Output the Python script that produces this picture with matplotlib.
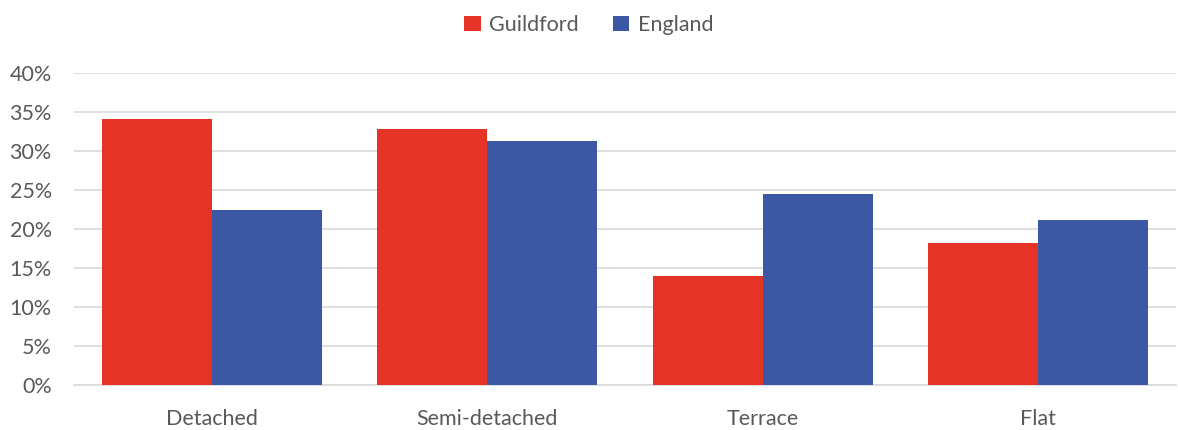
import matplotlib.pyplot as plt
import numpy as np
from matplotlib.ticker import PercentFormatter

# housing types share, Guildford vs England
categories = ["Detached", "Semi-detached", "Terrace", "Flat"]
guildford = [0.341, 0.328, 0.140, 0.182]
england = [0.224, 0.313, 0.245, 0.212]
yticks = [0, 0.05, 0.10, 0.15, 0.20, 0.25, 0.30, 0.35, 0.40]

plt.rcParams['font.family'] = ['Lato', 'DejaVu Sans']
txt = '#595959'

fig = plt.figure(figsize=(11.78, 4.30), dpi=100)
ax = fig.add_axes([74/1178, 45/430, 1102/1178, 312/430])

x = np.arange(len(categories))
w = 0.4
ax.bar(x - w/2, guildford, w, color='#E53425', label='Guildford', zorder=3)
ax.bar(x + w/2, england, w, color='#3C58A4', label='England', zorder=3)

ax.set_xlim(-0.5, len(categories) - 0.5)
ax.set_ylim(0, 0.4)
ax.set_yticks(yticks)
ax.yaxis.set_major_formatter(PercentFormatter(1.0, decimals=0))
ax.set_xticks(x)
ax.set_xticklabels(categories)
ax.grid(axis='y', color='#D9D9D9', linewidth=1.2, zorder=0)
for s in ['top', 'right', 'left']:
    ax.spines[s].set_visible(False)
ax.spines['bottom'].set_color('#D9D9D9')
ax.spines['bottom'].set_linewidth(1.2)
ax.tick_params(axis='both', length=0, labelsize=15.5, colors=txt)
ax.tick_params(axis='x', pad=17)
ax.tick_params(axis='y', pad=16)

fig.legend(loc='upper center', bbox_to_anchor=(0.5, 1.01), ncol=2, frameon=False,
           fontsize=15.5, labelcolor=txt, handlelength=0.75, handleheight=0.75,
           handletextpad=0.4, columnspacing=1.6)

fig.savefig('out.png', dpi=100)
